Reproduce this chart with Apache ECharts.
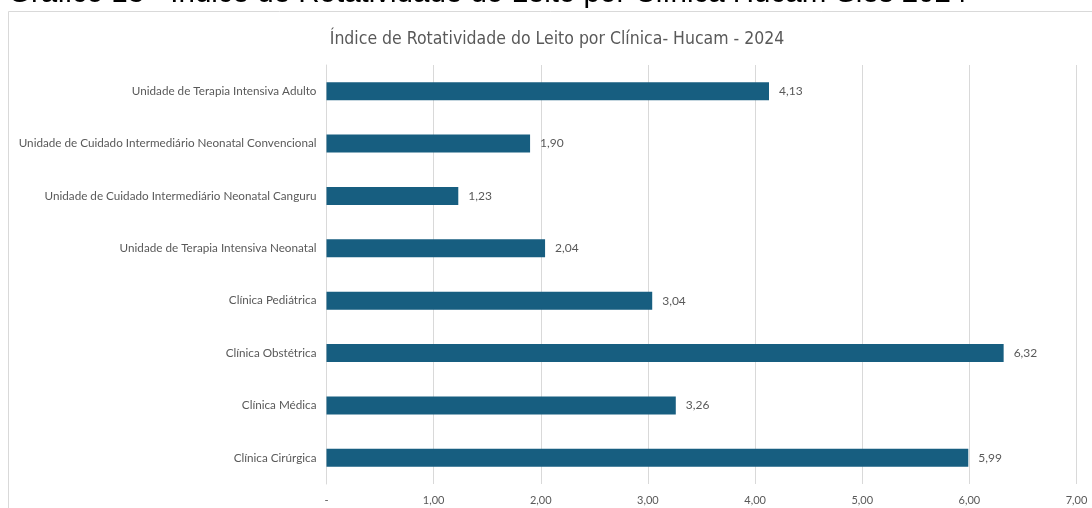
<!DOCTYPE html>
<html>
<head>
<meta charset="utf-8">
<title>Índice de Rotatividade do Leito por Clínica - Hucam 2024</title>
<script src="https://cdn.jsdelivr.net/npm/echarts@6/dist/echarts.min.js"></script>
<style>
  html, body { margin: 0; padding: 0; background: #ffffff; }
  #chart { width: 1092px; height: 508px; }
</style>
</head>
<body>
<div id="chart"></div>
<script>
// Clinics, listed top to bottom
const clinics = [
  'Unidade de Terapia Intensiva Adulto',
  'Unidade de Cuidado Intermediário Neonatal Convencional',
  'Unidade de Cuidado Intermediário Neonatal Canguru',
  'Unidade de Terapia Intensiva Neonatal',
  'Clínica Pediátrica',
  'Clínica Obstétrica',
  'Clínica Médica',
  'Clínica Cirúrgica'
];

// Bed turnover index per clinic
const turnover = [4.13, 1.90, 1.23, 2.04, 3.04, 6.32, 3.26, 5.99];

// Value axis range
const axisMin = 0;
const axisMax = 7;
const axisStep = 1;

const pageHeading = 'Gráfico 13 - Índice de Rotatividade do Leito por Clínica Hucam-Sies 2024';
const chartTitle = 'Índice de Rotatividade do Leito por Clínica- Hucam - 2024';

const fmt = v => v === 0 ? '-' : v.toFixed(2).replace('.', ',');

const chart = echarts.init(document.getElementById('chart'), null, { renderer: 'canvas' });

chart.setOption({
  animation: false,
  backgroundColor: '#ffffff',
  title: {
    text: chartTitle,
    left: 552,
    textAlign: 'center',
    top: 25,
    textStyle: {
      fontFamily: "'Liberation Sans Narrow', 'DejaVu Sans Condensed', sans-serif",
      fontSize: 17.5,
      fontWeight: 'normal',
      color: '#595959'
    }
  },
  graphic: [
    {
      type: 'rect',
      shape: { x: 8.5, y: 11.5, width: 1200, height: 600 },
      style: { fill: 'none', stroke: '#d9d9d9', lineWidth: 1 },
      silent: true
    },
    {
      type: 'text',
      left: 8,
      top: -21,
      style: {
        text: pageHeading,
        font: '29.5px "Liberation Sans", Arial, sans-serif',
        fill: '#000000'
      },
      silent: true
    }
  ],
  grid: {
    left: 326.5,
    right: 15.5,
    top: 65,
    bottom: 24,
    containLabel: false
  },
  xAxis: {
    type: 'value',
    min: axisMin,
    max: axisMax,
    interval: axisStep,
    axisLine: { show: false },
    axisTick: { show: false },
    splitLine: { show: true, lineStyle: { color: '#d9d9d9', width: 1 } },
    axisLabel: {
      formatter: fmt,
      margin: 11,
      fontFamily: 'Lato, sans-serif',
      fontSize: 11,
      color: '#595959'
    }
  },
  yAxis: {
    type: 'category',
    data: clinics,
    inverse: true,
    axisLine: { show: true, lineStyle: { color: '#d9d9d9', width: 1 } },
    axisTick: { show: false },
    axisLabel: {
      margin: 10,
      fontFamily: 'Lato, sans-serif',
      fontSize: 11.7,
      color: '#595959'
    }
  },
  series: [{
    type: 'bar',
    data: turnover,
    barWidth: 18,
    itemStyle: { color: '#175e80' },
    label: {
      show: true,
      position: 'right',
      distance: 10,
      formatter: p => fmt(p.value),
      fontFamily: 'Lato, sans-serif',
      fontSize: 12,
      color: '#595959'
    }
  }]
});
</script>
</body>
</html>
